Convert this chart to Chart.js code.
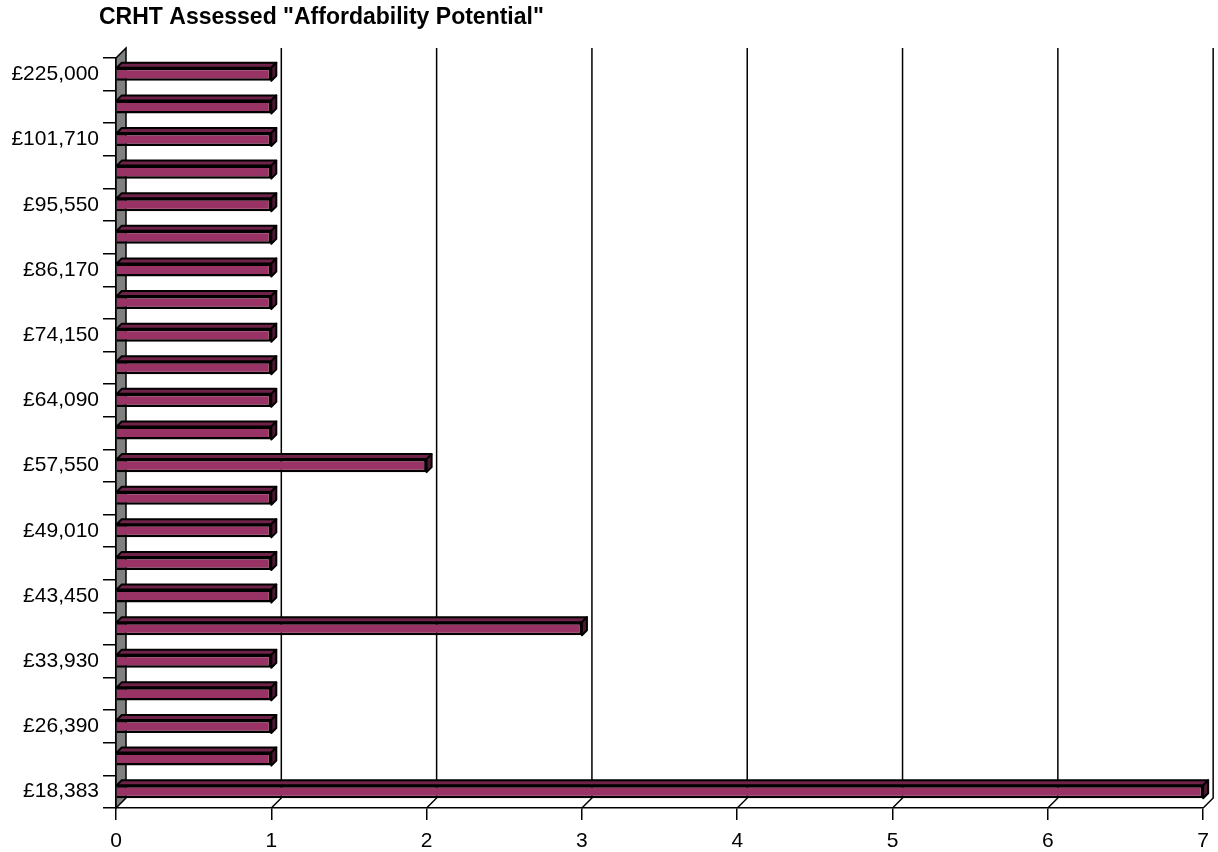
<!DOCTYPE html>
<html>
<head>
<meta charset="utf-8">
<script src="https://cdn.jsdelivr.net/npm/chart.js@4"></script>
<style>
  html, body { margin: 0; padding: 0; background: #fff; }
  #wrap { position: relative; width: 1218px; height: 852px; }
</style>
</head>
<body>
<div id="wrap"><canvas id="chartAfford"></canvas></div>
<script>
// categorias de baixo para cima (as que não têm rótulo no original ficam vazias)
const incomeLabels = ['£18,383', '', '£26,390', '', '£33,930', '', '£43,450', '', '£49,010', '',
    '£57,550', '', '£64,090', '', '£74,150', '', '£86,170', '', '£95,550', '', '£101,710', '', '£225,000'];
const countValues = [7, 1, 1, 1, 1, 3, 1, 1, 1, 1, 2, 1, 1, 1, 1, 1, 1, 1, 1, 1, 1, 1, 1];
const xTicks = [0, 1, 2, 3, 4, 5, 6, 7];
const chartTitle = 'CRHT Assessed "Affordability Potential"';

const FONT = "'Liberation Sans', Arial, sans-serif";
const DX = 10, DY = 10; // profundidade da parede / grelha

// parede cinzenta, grelha ao fundo e titulo
const depthPlugin = {
    id: 'depth3d',
    beforeDatasetsDraw(chart) {
        const { ctx, chartArea: a, scales: { x } } = chart;
        ctx.save();
        ctx.strokeStyle = '#000';
        ctx.lineWidth = 1.5;
        xTicks.forEach(v => {
            if (v === 0) return;
            const px = x.getPixelForValue(v);
            ctx.beginPath();
            ctx.moveTo(px + DX, a.top - DY);
            ctx.lineTo(px + DX, a.bottom - DY);
            ctx.lineTo(px, a.bottom);
            ctx.stroke();
        });
        ctx.fillStyle = '#808080';
        ctx.beginPath();
        ctx.moveTo(a.left, a.top);
        ctx.lineTo(a.left + DX, a.top - DY);
        ctx.lineTo(a.left + DX, a.bottom - DY);
        ctx.lineTo(a.left, a.bottom);
        ctx.closePath();
        ctx.fill();
        ctx.stroke();
        ctx.restore();
    },
    afterDatasetsDraw(chart) {
        const { ctx } = chart;
        const d = 5;
        ctx.save();
        ctx.strokeStyle = '#000';
        ctx.lineWidth = 2;
        ctx.lineJoin = 'round';
        chart.getDatasetMeta(0).data.forEach(bar => {
            const top = bar.y - bar.height / 2;
            const bot = bar.y + bar.height / 2;
            // face de cima
            ctx.fillStyle = '#6e2247';
            ctx.beginPath();
            ctx.moveTo(bar.base, top);
            ctx.lineTo(bar.x, top);
            ctx.lineTo(bar.x + d, top - d);
            ctx.lineTo(bar.base + d, top - d);
            ctx.closePath();
            ctx.fill();
            ctx.stroke();
            // lado direito
            ctx.fillStyle = '#4d1832';
            ctx.beginPath();
            ctx.moveTo(bar.x, top);
            ctx.lineTo(bar.x + d, top - d);
            ctx.lineTo(bar.x + d, bot - d);
            ctx.lineTo(bar.x, bot);
            ctx.closePath();
            ctx.fill();
            ctx.stroke();
        });
        ctx.restore();
    },
    afterDraw(chart) {
        const { ctx } = chart;
        ctx.save();
        ctx.fillStyle = '#000';
        ctx.font = 'bold 23px ' + FONT;
        ctx.textAlign = 'left';
        ctx.textBaseline = 'middle';
        ctx.fillText(chartTitle, 99, 18);
        ctx.restore();
    }
};

new Chart(document.getElementById('chartAfford'), {
    type: 'bar',
    data: {
        labels: incomeLabels,
        datasets: [{
            data: countValues,
            backgroundColor: '#993366',
            borderColor: '#000',
            borderWidth: 2.5,
            barPercentage: 0.4,
            categoryPercentage: 1
        }]
    },
    options: {
        indexAxis: 'y',
        responsive: true,
        maintainAspectRatio: false,
        animation: false,
        layout: { padding: { top: 58, right: 12, bottom: 0, left: 0 } },
        plugins: {
            legend: { display: false },
            tooltip: { enabled: false }
        },
        scales: {
            x: {
                min: 0,
                max: 7,
                afterFit: s => { s.height = 44; },
                afterBuildTicks: s => { s.ticks = xTicks.map(v => ({ value: v })); },
                ticks: { color: '#000', font: { family: FONT, size: 21 }, padding: 9 },
                grid: { drawOnChartArea: false, color: '#000', lineWidth: 1.5, tickLength: 12 },
                border: { color: '#000', width: 1.5 }
            },
            y: {
                reverse: true,
                afterFit: s => { s.width = 116; },
                ticks: { color: '#000', font: { family: FONT, size: 21 }, padding: 4, autoSkip: false },
                grid: { offset: true, drawOnChartArea: false, color: '#000', lineWidth: 1.5, tickLength: 13 },
                border: { color: '#000', width: 1.5 }
            }
        }
    },
    plugins: [depthPlugin]
});
</script>
</body>
</html>
